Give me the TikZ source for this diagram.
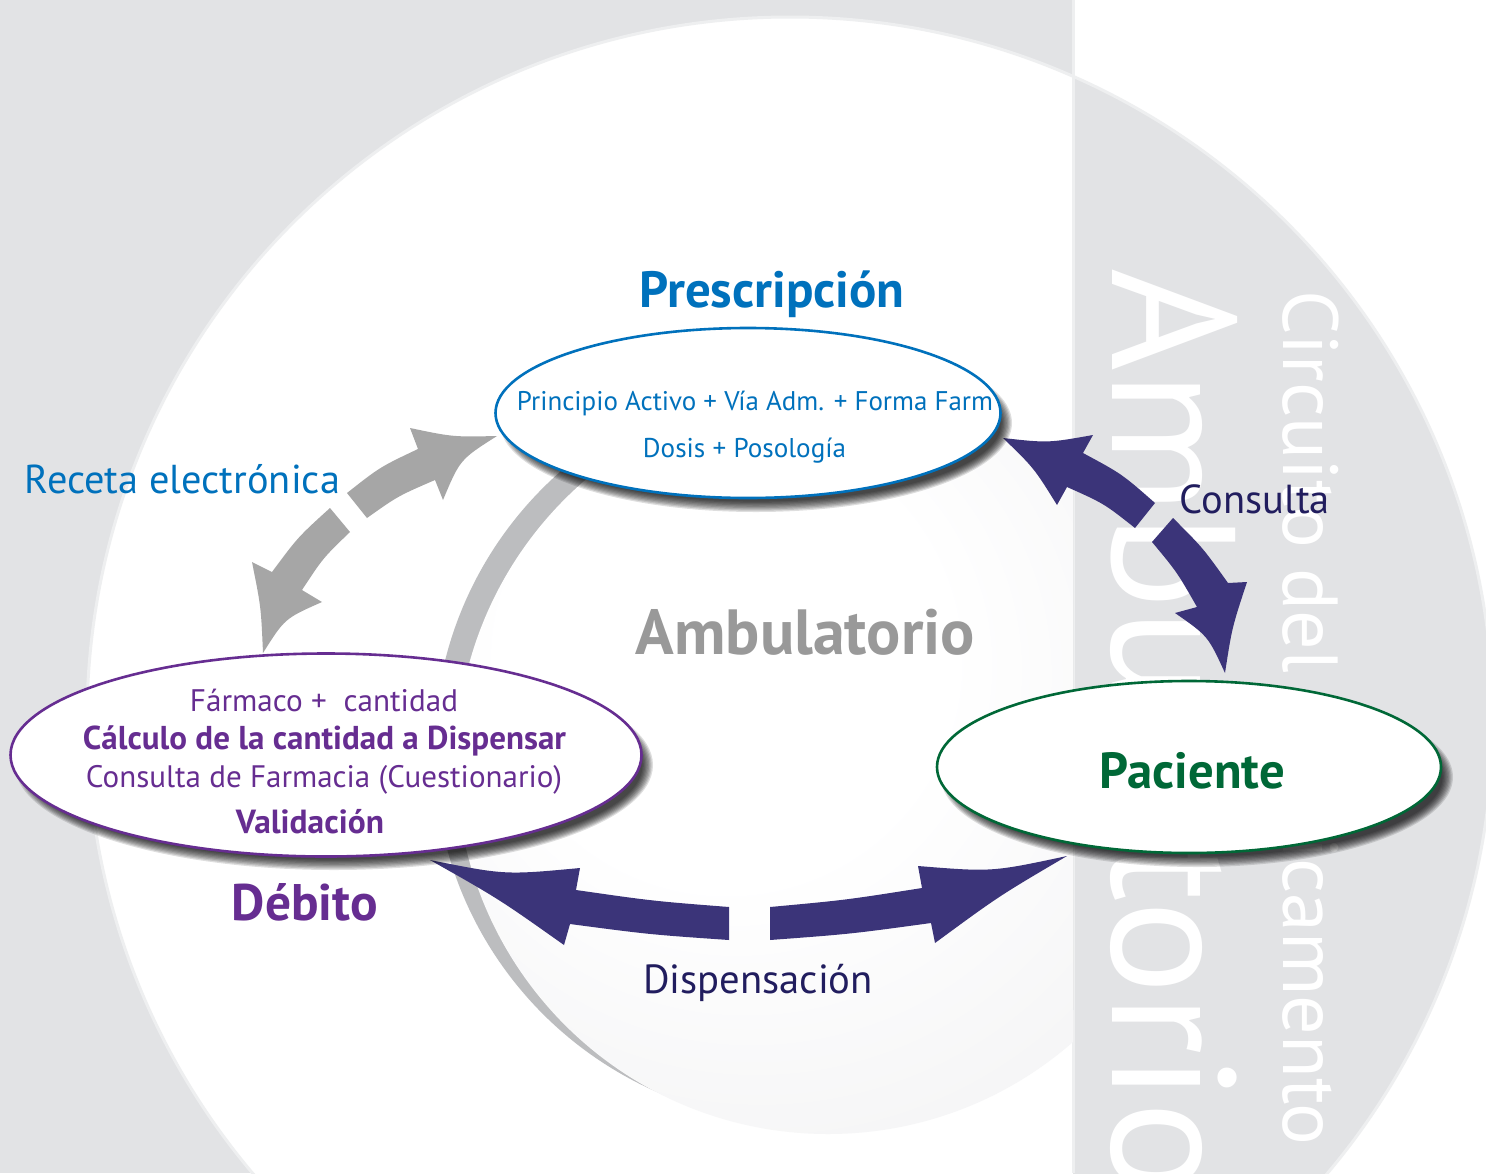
\documentclass[tikz,border=0pt]{standalone}
\usepackage{fontspec}
\setmainfont{PT Sans}
\usetikzlibrary{shapes.geometric}
\definecolor{bggray}{RGB}{226,227,229}
\definecolor{edgel}{RGB}{238,239,240}
\definecolor{rimgray}{RGB}{188,189,191}
\definecolor{diskedge}{RGB}{234,234,236}
\definecolor{arrgray}{RGB}{166,166,166}
\definecolor{navy}{RGB}{59,52,121}
\definecolor{navytxt}{RGB}{33,29,94}
\definecolor{pblue}{RGB}{0,113,188}
\definecolor{ppurple}{RGB}{102,45,145}
\definecolor{pgreen}{RGB}{0,104,55}
\definecolor{ambgray}{RGB}{153,153,153}
\pgfdeclareradialshading{diskshade}{\pgfpoint{-10bp}{10bp}}{color(0bp)=(white); color(15bp)=(white); color(50bp)=(diskedge)}
\newcommand\tw[2]{\resizebox{#1pt}{!}{#2}}
\newcommand\softshadow[4]{%
  \foreach \k in {0,...,8}{\fill[black,opacity=0.13] (#1+8,#2+10) ellipse ({#3+4-\k*1.3} and {#4+4-\k*1.3});}}
\begin{document}
\begin{tikzpicture}[x=1pt,y=-1pt,
  lbl/.style={anchor=base, inner sep=0, outer sep=0},
  oval/.style={ellipse, fill=white, line width=2.6pt, inner sep=0},
  fatgray/.style={fill=arrgray},
  fatnavy/.style={fill=navy},
  vtext/.style={rotate=-90, anchor=base west, inner sep=0, text=white}]
\useasboundingbox (0,0) rectangle (1486,1173);
% panels
\fill[bggray] (0,0) rectangle (1073,1173);
\fill[white] (1073,0) rectangle (1486,1173);
\begin{scope}
  \clip (0,0) rectangle (1073,1173);
  \fill[white] (790,720) circle (703);
\end{scope}
\begin{scope}
  \clip (1073,0) rectangle (1486,1173);
  \fill[bggray] (790,720) circle (703);
  \node[vtext, font=\fontsize{176}{180}\selectfont] (bigamb) at (1112,268) {Ambulatorio};
  \node[vtext] (circ) at (1283,290) {\tw{855}{Circuito del Medicamento}};
\end{scope}
\draw[edgel, line width=3] (790,720) circle (703);
\draw[edgel, line width=3] (1073,0) -- (1073,1173);
% inner disk
\begin{scope}
  \clip (0,0) rectangle (1073,1173);
  \fill[rimgray] (806,751) circle (372);
  \shade[shading=diskshade] (828,762) circle (372);
\end{scope}
\node[lbl, text=ambgray, font=\bfseries] (tamb) at (805.5,654) {\tw{339}{Ambulatorio}};
% gray arrows (Receta electronica)
\fill[fatgray] (347,493) .. controls (380,467) .. (418,449) -- (410,428)
  .. controls (453,437) .. (497,436) .. controls (460,459.5) .. (443,500)
  -- (435,480) .. controls (398,496) .. (367,518) -- cycle;
\fill[fatgray] (330,508) .. controls (298,537) .. (272,572) -- (252,562)
  .. controls (261,607) .. (263,653) .. controls (284.7,618.5) .. (322,602)
  -- (302,590) .. controls (323,558) .. (350,532) -- cycle;
% navy arrows (Consulta)
\fill[fatnavy] (1155,503) .. controls (1122,474) .. (1083,453) -- (1093,435)
  .. controls (1048,443) .. (1003,438) .. controls (1034,468) .. (1057,505)
  -- (1067,487) .. controls (1104,503.5) .. (1135,528) -- cycle;
\fill[fatnavy] (1173,518) .. controls (1203,548) .. (1228,583) -- (1247,582)
  .. controls (1232,627.5) .. (1225,673) .. controls (1208,636) .. (1175,613)
  -- (1197,607) .. controls (1177,572) .. (1152,542) -- cycle;
% navy arrows (Dispensacion)
\fill[fatnavy] (729,907) .. controls (652.5,901) .. (576,890) -- (580,868)
  .. controls (505,875) .. (430,860) .. controls (499,899) .. (564,945)
  -- (570,924) .. controls (649.5,934.5) .. (729,940) -- cycle;
\fill[fatnavy] (770,907) .. controls (846,900) .. (922,888) -- (918,866)
  .. controls (992,872) .. (1067,856) .. controls (998.8,896.1) .. (935,943)
  -- (931,923) .. controls (850.5,934) .. (770,940) -- cycle;
% shadows
\softshadow{748}{413}{252}{85}
\softshadow{326}{755}{315}{101}
\softshadow{1189}{767}{252}{86}
% ellipses
\node[oval, draw=pblue, minimum width=505, minimum height=170] (presc) at (748,413) {};
\node[oval, draw=ppurple, minimum width=631, minimum height=203] (debit) at (326,755) {};
\node[oval, draw=pgreen, minimum width=504, minimum height=172] (pac) at (1189,767) {};
% texts
\node[lbl, text=pblue, font=\bfseries] (tpresc) at (772,307) {\tw{265}{Prescripción}};
\node[lbl, text=pblue] (l1) at (755,410) {\tw{476}{Principio Activo + Vía Adm. + Forma Farm}};
\node[lbl, text=pblue] (l2) at (744.5,457) {\tw{203}{Dosis + Posología}};
\node[lbl, text=ppurple] (d1) at (324,711) {\tw{268}{Fármaco +\ \ cantidad}};
\node[lbl, text=ppurple, font=\bfseries] (d2) at (324.5,749) {\tw{483}{Cálculo de la cantidad a Dispensar}};
\node[lbl, text=ppurple] (d3) at (324,787) {\tw{476}{Consulta de Farmacia (Cuestionario)}};
\node[lbl, text=ppurple, font=\bfseries] (d4) at (310,833) {\tw{148}{Validación}};
\node[lbl, text=ppurple, font=\bfseries] (tdeb) at (305,920) {\tw{146}{Débito}};
\node[lbl, text=pgreen, font=\bfseries] (tpac) at (1192.5,788) {\tw{185}{Paciente}};
\node[lbl, text=pblue] (trec) at (182.5,493) {\tw{315}{Receta electrónica}};
\node[lbl, text=navytxt] (tcons) at (1255,513) {\tw{150}{Consulta}};
\node[lbl, text=navytxt] (tdisp) at (758,993) {\tw{230}{Dispensación}};
\end{tikzpicture}
\end{document}
